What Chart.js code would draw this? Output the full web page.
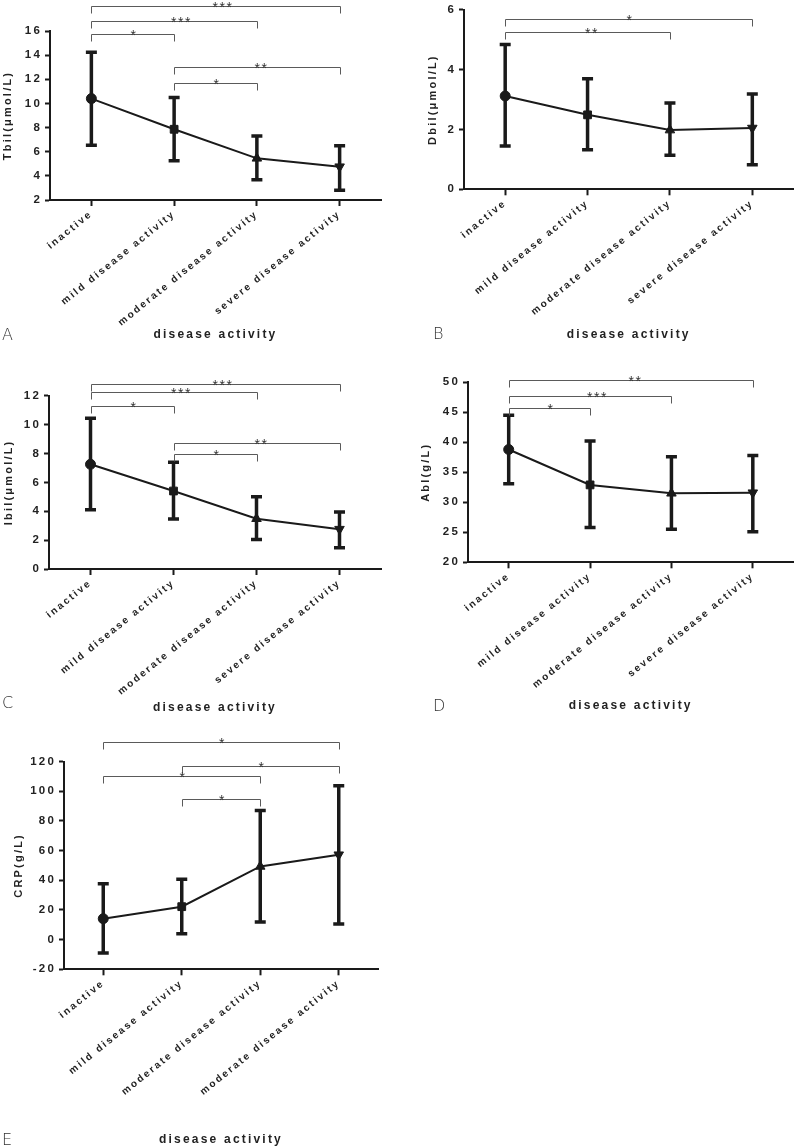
<!DOCTYPE html>
<html>
<head>
<meta charset="utf-8">
<script src="https://cdn.jsdelivr.net/npm/chart.js@4.4.1/dist/chart.umd.min.js"></script>
<style>
body { margin: 0; background: #fff; }
#wrap { position: relative; width: 800px; height: 1148px; }
canvas { position: absolute; }
.tag { position: absolute; font: 200 16px 'DejaVu Sans'; color: #333; line-height: 18px; }
</style>
</head>
<body>
<div id="wrap">
  <canvas id="chartA" width="400" height="345" style="left:0;top:0"></canvas>
  <canvas id="chartB" width="400" height="345" style="left:400px;top:0"></canvas>
  <canvas id="chartC" width="400" height="366" style="left:0;top:350px"></canvas>
  <canvas id="chartD" width="400" height="366" style="left:400px;top:350px"></canvas>
  <canvas id="chartE" width="400" height="423" style="left:0;top:725px"></canvas>
  <div class="tag" style="left:2px;top:326px">A</div>
  <div class="tag" style="left:433px;top:325px">B</div>
  <div class="tag" style="left:2px;top:694px">C</div>
  <div class="tag" style="left:433px;top:697px">D</div>
  <div class="tag" style="left:2px;top:1131px">E</div>
</div>
<script>
const groups = ['inactive', 'mild disease activity', 'moderate disease activity', 'severe disease activity']
const crpGroups = ['inactive', 'mild disease activity', 'moderate disease activity', 'moderate disease activity']

// A - Tbil
const tbilMean = [10.4, 7.86, 5.45, 4.76]
const tbilLow = [6.53, 5.26, 3.68, 2.8]
const tbilHigh = [14.24, 10.5, 7.3, 6.5]
const tbilTicks = [2, 4, 6, 8, 10, 12, 14, 16]
const tbilSig = [[0, 3, 18.07, '***'], [0, 2, 16.8, '***'], [0, 1, 15.75, '*'], [1, 3, 13.0, '**'], [1, 2, 11.7, '*']]

// B - Dbil
const dbilMean = [3.12, 2.49, 1.98, 2.05]
const dbilLow = [1.45, 1.32, 1.14, 0.82]
const dbilHigh = [4.84, 3.7, 2.89, 3.19]
const dbilTicks = [0, 2, 4, 6]
const dbilSig = [[0, 3, 5.69, '*'], [0, 2, 5.25, '**']]

// C - Ibil
const ibilMean = [7.25, 5.4, 3.48, 2.76]
const ibilLow = [4.1, 3.46, 2.05, 1.47]
const ibilHigh = [10.44, 7.39, 5.0, 3.94]
const ibilTicks = [0, 2, 4, 6, 8, 10, 12]
const ibilSig = [[0, 3, 12.81, '***'], [0, 2, 12.26, '***'], [0, 1, 11.29, '*'], [1, 3, 8.75, '**'], [1, 2, 7.94, '*']]

// D - Abl
const ablMean = [38.8, 32.9, 31.5, 31.6]
const ablLow = [33.1, 25.8, 25.5, 25.1]
const ablHigh = [44.5, 40.2, 37.6, 37.8]
const ablTicks = [20, 25, 30, 35, 40, 45, 50]
const ablSig = [[0, 3, 50.3, '**'], [0, 2, 47.8, '***'], [0, 1, 45.8, '*']]

// E - CRP
const crpMean = [14.1, 22.2, 49.3, 57.2]
const crpLow = [-9, 4, 11.9, 10.5]
const crpHigh = [37.7, 40.6, 87, 103.6]
const crpTicks = [-20, 0, 20, 40, 60, 80, 100, 120]
const crpSig = [[0, 3, 133.4, '*'], [1, 3, 117.2, '*'], [0, 2, 110.1, '*'], [1, 2, 94.8, '*']]

const family = '"Liberation Sans", Arial, sans-serif'
const ink = '#1a1a1a'
Chart.defaults.font.family = family
Chart.defaults.font.weight = 'bold'
Chart.defaults.color = '#222'

// letter spaced labels like the original figure
const spacing = {
    id: 'spacing',
    beforeDraw(chart) {
        chart.ctx.letterSpacing = '2.2px'
    }
}

const errorBars = {
    id: 'errorBars',
    beforeDatasetsDraw(chart, args, opts) {
        const {ctx, scales: {x, y}} = chart
        ctx.save()
        ctx.strokeStyle = ink
        ctx.lineWidth = 3.5
        opts.low.forEach((lo, i) => {
            const px = x.getPixelForValue(i)
            const y1 = y.getPixelForValue(lo)
            const y2 = y.getPixelForValue(opts.high[i])
            ctx.beginPath()
            ctx.moveTo(px, y1)
            ctx.lineTo(px, y2)
            ctx.moveTo(px - 5.5, y1)
            ctx.lineTo(px + 5.5, y1)
            ctx.moveTo(px - 5.5, y2)
            ctx.lineTo(px + 5.5, y2)
            ctx.stroke()
        })
        ctx.restore()
    }
}

const brackets = {
    id: 'brackets',
    afterDraw(chart, args, opts) {
        const {ctx, scales: {x, y}} = chart
        ctx.save()
        ctx.strokeStyle = '#5a5a5a'
        ctx.lineWidth = 1
        ctx.fillStyle = '#333'
        ctx.font = '14px ' + family
        ctx.letterSpacing = '1.5px'
        ctx.textAlign = 'center'
        ctx.textBaseline = 'alphabetic'
        for (const [a, b, level, mark] of opts.sig) {
            const x1 = Math.round(x.getPixelForValue(a)) + 0.5
            const x2 = Math.round(x.getPixelForValue(b)) + 0.5
            const py = Math.round(y.getPixelForValue(level)) + 0.5
            ctx.beginPath()
            ctx.moveTo(x1, py + 7)
            ctx.lineTo(x1, py)
            ctx.lineTo(x2, py)
            ctx.lineTo(x2, py + 7)
            ctx.stroke()
            ctx.fillText(mark, (x1 + x2) / 2 + 3 * (mark.length - 1) + 1, py + 5.5)
        }
        ctx.restore()
    }
}

const makePanel = (id, p) => {
    const ctx = document.getElementById(id).getContext('2d')
    return new Chart(ctx, {
        type: 'line',
        data: {
            labels: p.labels,
            datasets: [{
                data: p.mean,
                borderColor: ink,
                borderWidth: 2,
                tension: 0,
                pointStyle: ['circle', 'rect', 'triangle', 'triangle'],
                pointRotation: [0, 0, 0, 180],
                pointRadius: [5, 5.5, 5.5, 5.5],
                pointBackgroundColor: ink,
                pointBorderColor: ink,
                pointBorderWidth: 1
            }]
        },
        options: {
            responsive: false,
            animation: false,
            layout: { padding: { left: 0, top: p.top, right: p.right, bottom: 0 } },
            plugins: {
                legend: { display: false },
                tooltip: { enabled: false },
                errorBars: { low: p.low, high: p.high },
                brackets: { sig: p.sig }
            },
            scales: {
                x: {
                    offset: true,
                    grid: { offset: false, drawOnChartArea: false, tickLength: 6, tickWidth: 2, tickColor: ink },
                    border: { color: ink, width: 2 },
                    ticks: { minRotation: 39, maxRotation: 39, autoSkip: false, padding: 2, font: { size: 10 } },
                    title: { display: true, text: 'disease activity', font: { size: 12 }, padding: { top: 0, bottom: p.xtp } },
                    afterFit: s => { s.height = p.xh }
                },
                y: {
                    min: p.ticks[0],
                    max: p.ticks[p.ticks.length - 1],
                    afterBuildTicks: s => { s.ticks = p.ticks.map(v => ({ value: v })) },
                    grid: { drawOnChartArea: false, tickLength: 5, tickWidth: 2, tickColor: ink },
                    border: { color: ink, width: 2 },
                    ticks: { padding: 3, font: { size: 11.5 } },
                    title: { display: true, text: p.ytitle, font: { size: 11 }, padding: { top: p.ytp, bottom: 0 } },
                    afterFit: s => { s.width = p.yw }
                }
            }
        },
        plugins: [spacing, errorBars, brackets]
    })
}

makePanel('chartA', { labels: groups, mean: tbilMean, low: tbilLow, high: tbilHigh, ticks: tbilTicks, sig: tbilSig,
    ytitle: 'Tbil(μmol/L)', top: 31, right: 19, yw: 50, xh: 145, xtp: 2.8, ytp: 1.4 })
makePanel('chartB', { labels: groups, mean: dbilMean, low: dbilLow, high: dbilHigh, ticks: dbilTicks, sig: dbilSig,
    ytitle: 'Dbil(μmol/L)', top: 8.3, right: 1, yw: 64, xh: 155.7, xtp: 2.8, ytp: 26.4 })
makePanel('chartC', { labels: groups, mean: ibilMean, low: ibilLow, high: ibilHigh, ticks: ibilTicks, sig: ibilSig,
    ytitle: 'Ibil(μmol/L)', top: 45.7, right: 19, yw: 49, xh: 147, xtp: 1.1, ytp: 1.9 })
makePanel('chartD', { labels: groups, mean: ablMean, low: ablLow, high: ablHigh, ticks: ablTicks, sig: ablSig,
    ytitle: 'Abl(g/L)', top: 32.3, right: 0, yw: 68, xh: 153.7, xtp: 3.1, ytp: 19.4 })
makePanel('chartE', { labels: crpGroups, mean: crpMean, low: crpLow, high: crpHigh, ticks: crpTicks, sig: crpSig,
    ytitle: 'CRP(g/L)', top: 36.5, right: 22, yw: 64, xh: 178.7, xtp: 0.8, ytp: 12.4 })
</script>
</body>
</html>
